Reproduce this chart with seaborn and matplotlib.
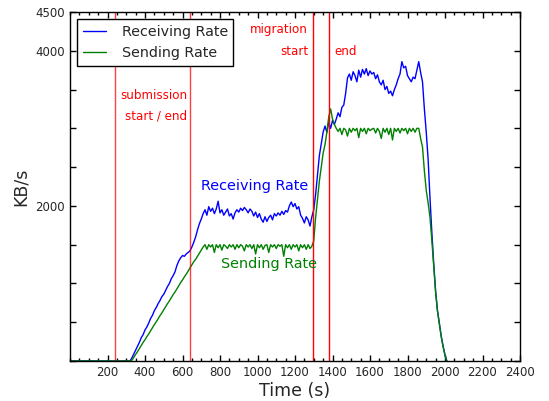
import numpy as np
import pandas as pd
import matplotlib
matplotlib.use('Agg')
import matplotlib.pyplot as plt
import matplotlib.ticker as mticker
import seaborn as sns

# Données (KB/s, un échantillon toutes les 10 s)
temps = np.arange(0, 2020, 10)

zeros_debut = [0] * 33  # 0 s -> 320 s

recv_montee = [40, 90, 140, 190, 240, 300, 340, 400, 440, 490,
               550, 590, 650, 690, 740, 780, 830, 860, 910, 960,
               1000, 1060, 1100, 1150, 1230, 1290, 1330, 1360, 1350, 1380,
               1400, 1420, 1470, 1530, 1600, 1690, 1770, 1830, 1900]
recv_palier1 = [1950, 1880, 1990, 1930, 1970, 1900, 1960, 2060, 1910, 1950,
                1880, 1920, 1960, 1870, 1900, 1830, 1910, 1950, 1920, 1970,
                1940, 1980, 1950, 1910, 1960, 1930, 1870, 1920, 1850, 1900,
                1830, 1790, 1860, 1800, 1850, 1880, 1820, 1900, 1870, 1910,
                1880, 1930, 1890, 1940, 1920, 2000, 2050, 1990, 2030, 1960,
                1990, 1880, 1840, 1780, 1860, 1820, 1740, 1860]
recv_migration = [1950, 2150, 2400, 2650, 2800, 2950, 3030, 2950, 3080, 3000,
                  3100, 3050]
recv_palier2 = [3120, 3200, 3150, 3270, 3300, 3450, 3650, 3700, 3620, 3730,
                3680, 3600, 3750, 3660, 3760, 3700, 3770, 3680, 3740, 3700,
                3720, 3640, 3690, 3600, 3560, 3620, 3500, 3540, 3450, 3480,
                3420, 3500, 3560, 3640, 3700, 3860, 3780, 3800, 3680, 3640,
                3600, 3660, 3640, 3750, 3860, 3720]
recv_descente = [3600, 3250, 2950, 2600, 2100, 1650, 1250, 900, 650, 480,
                 320, 190, 80, 0]

send_montee = [10, 45, 85, 120, 160, 200, 240, 275, 315, 350,
               390, 430, 470, 505, 545, 585, 620, 660, 700, 740,
               775, 815, 855, 890, 930, 970, 1010, 1045, 1085, 1120,
               1160, 1200, 1240, 1280, 1310, 1350, 1390, 1430, 1470]
send_palier1 = [1500, 1440, 1500, 1470, 1500, 1400, 1500, 1460, 1500, 1430,
                1500, 1480, 1450, 1500, 1470, 1500, 1440, 1500, 1460, 1500,
                1480, 1420, 1500, 1470, 1500, 1450, 1500, 1380, 1500, 1460,
                1500, 1440, 1490, 1500, 1400, 1500, 1470, 1500, 1450, 1500,
                1480, 1500, 1350, 1500, 1460, 1500, 1440, 1500, 1470, 1500,
                1420, 1500, 1460, 1500, 1440, 1500, 1450, 1480]
send_migration = [1550, 1850, 2080, 2320, 2500, 2680, 2790, 2950, 3150, 3250,
                  3120, 3050]
send_palier2 = [3000, 2960, 3000, 2920, 3000, 2980, 2900, 3000, 2950, 3000,
                2970, 3000, 2880, 3000, 2960, 3000, 2930, 3000, 2970, 2990,
                3000, 2940, 3000, 2960, 2870, 3000, 2950, 3000, 2920, 3000,
                2850, 3000, 2960, 3000, 2940, 3000, 2970, 3000, 2930, 3000,
                2960, 3000, 2950, 3000, 3000, 2870]
send_descente = [2760, 2450, 2200, 2040, 1850, 1550, 1220, 880, 640, 470,
                 310, 180, 70, 0]

# Événements (s)
evenements_soumission = [238, 638]
evenements_migration = [1295, 1380]

recv = zeros_debut + recv_montee + recv_palier1 + recv_migration + recv_palier2 + recv_descente
send = zeros_debut + send_montee + send_palier1 + send_migration + send_palier2 + send_descente

df = pd.DataFrame({'Time': temps, 'Receiving': recv, 'Sending': send})

# Style
sns.set_style('ticks')
plt.rcParams['font.family'] = ['DejaVu Sans']
plt.rcParams['xtick.direction'] = 'in'
plt.rcParams['ytick.direction'] = 'in'

fig = plt.figure(figsize=(5.49, 4.01), dpi=100)
ax = fig.add_axes([70 / 549, 1 - 361 / 401, 450 / 549, 349 / 401])

sns.lineplot(data=df, x='Time', y='Receiving', ax=ax, color='blue', lw=1.0,
             estimator=None, sort=False, label='Receiving Rate')
sns.lineplot(data=df, x='Time', y='Sending', ax=ax, color='green', lw=1.0,
             estimator=None, sort=False, label='Sending Rate')

for t in evenements_soumission:
    ax.axvline(t, color='red', lw=1.0, alpha=0.75)
for t in evenements_migration:
    ax.axvline(t, color='red', lw=1.0)

ax.text(627, 3417, 'submission', color='red', fontsize=8.6, ha='right', va='center')
ax.text(627, 3159, 'start / end', color='red', fontsize=8.6, ha='right', va='center')
ax.text(1268, 4268, 'migration', color='red', fontsize=8.6, ha='right', va='center')
ax.text(1273, 3997, 'start', color='red', fontsize=8.6, ha='right', va='center')
ax.text(1412, 3997, 'end', color='red', fontsize=8.6, ha='left', va='center')

ax.text(985, 2256, 'Receiving Rate', color='blue', fontsize=10.4, ha='center', va='center')
ax.text(1060, 1250, 'Sending Rate', color='green', fontsize=10.4, ha='center', va='center')

ax.set_xlim(0, 2400)
ax.set_ylim(0, 4500)
ax.set_xticks(np.arange(200, 2401, 200))
ax.xaxis.set_minor_locator(mticker.MultipleLocator(50))
yt = np.arange(0, 4501, 500)
ax.set_yticks(yt)
ax.set_yticklabels([str(v) if v in (2000, 4000, 4500) else '' for v in yt])
ax.tick_params(which='both', top=True, right=True, labelsize=8.5, width=1, color='black')
ax.tick_params(which='major', length=4)
ax.tick_params(which='minor', length=2.5)
for s in ax.spines.values():
    s.set_color('black')
    s.set_linewidth(1)

ax.set_xlabel('Time (s)', fontsize=12.5, labelpad=2)
ax.set_ylabel('KB/s', fontsize=12.5, labelpad=4)

leg = ax.legend(loc='upper left', fontsize=10.3, frameon=True, fancybox=False,
                edgecolor='black', handlelength=1.6, handletextpad=1.1, borderpad=0.4)
leg.get_frame().set_linewidth(1)
leg.get_frame().set_alpha(1)

fig.savefig('out.png', dpi=100)
